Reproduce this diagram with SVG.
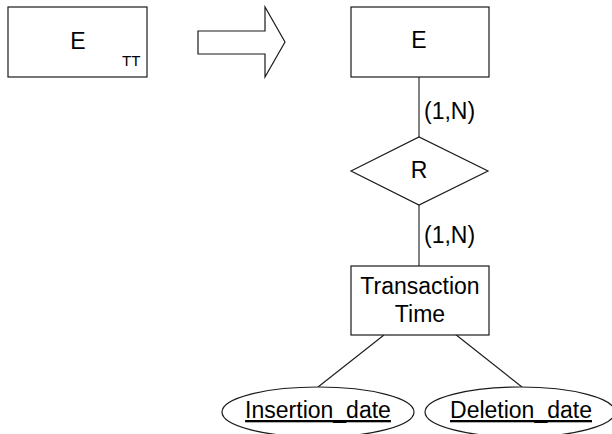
<svg xmlns="http://www.w3.org/2000/svg" width="612" height="434" viewBox="0 0 612 434">
  <style>
    .shape { fill: #ffffff; stroke: #1a1a1a; stroke-width: 1.2; }
    .link { stroke: #1a1a1a; stroke-width: 1.1; fill: none; }
    .lbl { font-family: "Liberation Sans", Arial, sans-serif; font-size: 23px; fill: #000; }
    .mid { text-anchor: middle; }
    .key { text-decoration: underline; }
  </style>
  <rect width="612" height="434" fill="#ffffff"/>

  <!-- Entity with transaction-time marker -->
  <g id="entity-tt">
    <rect class="shape" x="8" y="7" width="139" height="70"/>
    <text class="lbl mid" x="78" y="49">E</text>
    <text class="lbl" x="122" y="66" style="font-size:15px">TT</text>
  </g>

  <!-- Transformation arrow -->
  <g id="transform-arrow">
    <polygon class="shape" points="198,31 265,31 265,7 285,42 265,77 265,54 198,54"/>
  </g>

  <!-- Connectors -->
  <g id="connectors">
    <line class="link" x1="419" y1="77" x2="419" y2="137"/>
    <line class="link" x1="419" y1="205" x2="419" y2="266"/>
    <line class="link" x1="384" y1="335" x2="318" y2="387"/>
    <line class="link" x1="455" y1="334" x2="522" y2="387"/>
    <text class="lbl" x="424" y="119">(1,N)</text>
    <text class="lbl" x="424" y="243">(1,N)</text>
  </g>

  <g id="entity-e">
    <rect class="shape" x="351" y="7" width="138" height="70"/>
    <text class="lbl mid" x="419" y="48">E</text>
  </g>

  <g id="relationship-r">
    <polygon class="shape" points="351,171 419,137 488,171 419,205"/>
    <text class="lbl mid" x="419" y="178">R</text>
  </g>

  <g id="transaction-time">
    <rect class="shape" x="351" y="266" width="138" height="69"/>
    <text class="lbl mid" x="420" y="294">Transaction</text>
    <text class="lbl mid" x="420" y="322">Time</text>
  </g>

  <g id="insertion-date">
    <ellipse class="shape" cx="318" cy="412" rx="96" ry="25"/>
    <text class="lbl mid key" x="318" y="418">Insertion_date</text>
  </g>

  <g id="deletion-date">
    <ellipse class="shape" cx="520" cy="412" rx="95" ry="25"/>
    <text class="lbl mid key" x="521" y="418">Deletion_date</text>
  </g>
</svg>
